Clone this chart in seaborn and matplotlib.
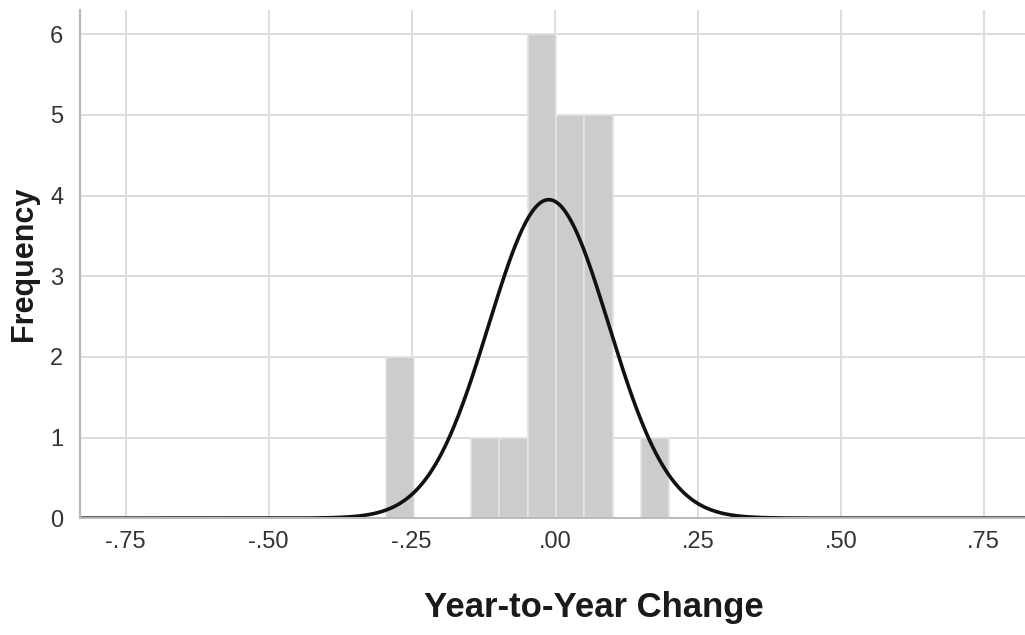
import numpy as np
import pandas as pd
import matplotlib
matplotlib.use("Agg")
import matplotlib.pyplot as plt
import seaborn as sns

# ---- data ----
bin_start = -0.295
bin_width = 0.0495
counts = [2, 0, 0, 1, 1, 6, 5, 5, 0, 1]
curve_mean = -0.0105
curve_sd = 0.105
x_ticks = [-0.75, -0.50, -0.25, 0.00, 0.25, 0.50, 0.75]
x_tick_labels = ["-.75", "-.50", "-.25", ".00", ".25", ".50", ".75"]
y_ticks = [0, 1, 2, 3, 4, 5, 6]

sns.set_theme(style="white")
plt.rcParams['font.family'] = ['Liberation Sans', 'DejaVu Sans']

edges = [float(bin_start + bin_width * i) for i in range(len(counts) + 1)]
centers = [(edges[i] + edges[i + 1]) / 2 for i in range(len(counts))]
df = pd.DataFrame({"x": centers, "w": counts})

fig = plt.figure(figsize=(10.25, 6.35), dpi=100)
ax = fig.add_axes([0.078, 0.184, 0.922, 0.80])

ax.set_axisbelow(True)
ax.grid(True, color="#dcdcdc", linewidth=1.4)

sns.histplot(data=df, x="x", weights="w", bins=edges, ax=ax,
             color="#cccccc", edgecolor="#e4e4e4", linewidth=1.2, alpha=1.0)

n = sum(counts)
xs = np.linspace(-0.83, 0.83, 600)
ys = n * bin_width / (curve_sd * np.sqrt(2 * np.pi)) * np.exp(-0.5 * ((xs - curve_mean) / curve_sd) ** 2)
sns.lineplot(x=xs, y=ys, ax=ax, color="#111111", linewidth=2.6)

ax.set_xlim(-0.83, 0.822)
ax.set_ylim(0, 6.3)
ax.set_xticks(x_ticks)
ax.set_xticklabels(x_tick_labels)
ax.set_yticks(y_ticks)
ax.tick_params(axis="x", labelsize=17, colors="#333333", length=0, pad=9)
ax.tick_params(axis="y", labelsize=17, colors="#333333", length=0, pad=12)

for s in ["top", "right"]:
    ax.spines[s].set_visible(False)
ax.spines["left"].set_color("#b8b8b8")
ax.spines["left"].set_linewidth(1.6)
ax.spines["bottom"].set_color("#bbbbbb")
ax.spines["bottom"].set_linewidth(1.4)

ax.set_xlabel("Year-to-Year Change", fontsize=25, fontweight="bold", color="#1a1a1a")
ax.xaxis.set_label_coords(0.544, -0.143)
ax.set_ylabel("Frequency", fontsize=22, fontweight="bold", color="#1a1a1a", labelpad=8)

fig.savefig("out.png", dpi=100)
